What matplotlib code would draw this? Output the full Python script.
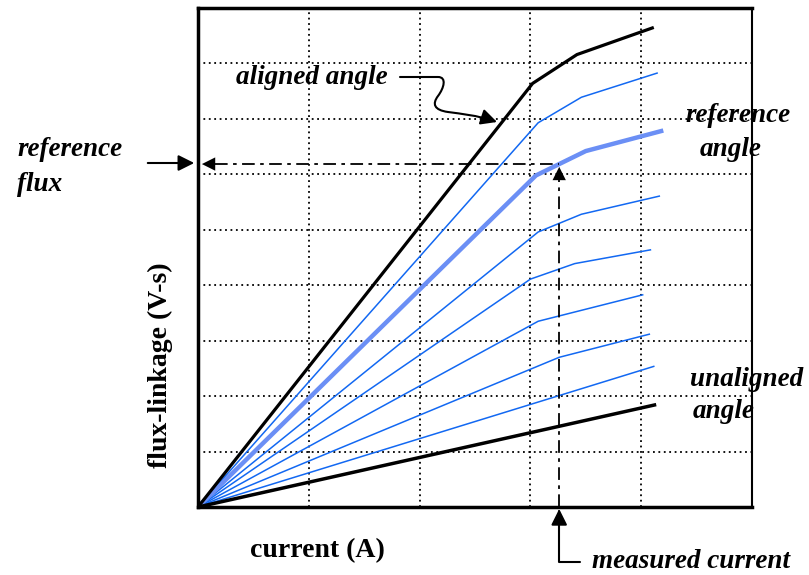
import matplotlib.pyplot as plt
import numpy as np
from matplotlib.patches import FancyArrowPatch
from matplotlib.path import Path

# flux-linkage curves, current and flux in grid units
aligned_i = [0, 3.02, 3.42, 4.10]
aligned_psi = [0, 7.64, 8.16, 8.64]

ref_i = [0, 3.05, 3.50, 4.18]
ref_psi = [0, 5.98, 6.42, 6.78]

blue_curves = [
    ([0, 3.07, 3.46, 4.15], [0, 6.93, 7.39, 7.83]),
    ([0, 3.07, 3.46, 4.17], [0, 4.96, 5.28, 5.61]),
    ([0, 3.00, 3.40, 4.09], [0, 4.11, 4.39, 4.64]),
    ([0, 3.07, 4.02], [0, 3.35, 3.83]),
    ([0, 3.26, 4.08], [0, 2.70, 3.12]),
    ([0, 4.12], [0, 2.54]),
]

unaligned_i = [0, 4.12]
unaligned_psi = [0, 1.84]

measured_current = 3.26
reference_flux = np.interp(measured_current, ref_i, ref_psi)

W, H = 809, 575
fig = plt.figure(figsize=(W / 100, H / 100), dpi=100)
ax = fig.add_axes([198 / W, 1 - 507 / H, 554 / W, 499 / H])
ax.set_xlim(0, 5)
ax.set_ylim(0, 9)
ax.set_xticks(range(1, 5))
ax.set_yticks(range(1, 9))
ax.tick_params(length=0, labelbottom=False, labelleft=False)
ax.grid(True, color='black', linestyle=(0, (1, 2)), linewidth=1.3)
for side in ['left', 'top', 'bottom']:
    ax.spines[side].set_linewidth(2.5)
ax.spines['right'].set_linewidth(1.5)
ax.set_zorder(2)
ax.patch.set_alpha(0)

blue = '#1268f2'
for xs, ys in blue_curves:
    ax.plot(xs, ys, color=blue, lw=1.1, solid_capstyle='butt')
ax.plot(ref_i, ref_psi, color='#6b8ff5', lw=3.2)
ax.plot(aligned_i, aligned_psi, color='black', lw=2.3)
ax.plot(unaligned_i, unaligned_psi, color='black', lw=2.5)

# reference flux / measured current construction lines
ax.plot([0.15, measured_current], [reference_flux, reference_flux], color='black',
        lw=1.3, linestyle=(0, (7, 3, 2, 3)))
ax.plot([measured_current, measured_current], [0, reference_flux - 0.25], color='black',
        lw=1.3, linestyle=(0, (7, 3, 2, 3)))
ax.add_patch(FancyArrowPatch((measured_current, reference_flux - 0.3),
                             (measured_current, reference_flux),
                             arrowstyle='-|>', mutation_scale=24, color='black', lw=0))
ax.add_patch(FancyArrowPatch((0.15, reference_flux), (0.01, reference_flux),
                             arrowstyle='-|>', mutation_scale=24, color='black', lw=0))


def fp(x, y):
    return (x / W, 1 - y / H)


tf = fig.transFigure
# reference flux arrow
fig.patches.append(FancyArrowPatch(fp(145, 163), fp(197, 163), transform=tf,
                                   arrowstyle='-|>', mutation_scale=24, color='black', lw=1.5))
# measured current arrow
cx = 198 + measured_current * 110.8
verts = [fp(580, 562), fp(cx, 562), fp(cx, 509)]
fig.patches.append(FancyArrowPatch(path=Path(verts, [Path.MOVETO, Path.LINETO, Path.LINETO]),
                                   transform=tf, arrowstyle='-|>', mutation_scale=24,
                                   color='black', lw=1.5))
# aligned angle squiggle
sq = [(400, 77), (438, 77), (447, 77), (444, 88), (438, 96), (432, 104), (434, 110),
      (448, 112), (462, 114), (476, 115), (497, 122)]
codes = [Path.MOVETO, Path.LINETO] + [Path.CURVE4] * 9
fig.patches.append(FancyArrowPatch(path=Path([fp(*p) for p in sq], codes), transform=tf,
                                   arrowstyle='-|>', mutation_scale=24, color='black', lw=1.5))

lab = dict(family='Liberation Serif', weight='bold', style='italic', fontsize=19.5,
           color='black', va='center', ha='left')
fig.text(*fp(236, 78), 'aligned angle', **lab)
fig.text(*fp(685, 116), 'reference', **lab)
fig.text(*fp(700, 149), 'angle', **lab)
fig.text(*fp(17, 150), 'reference', **lab)
fig.text(*fp(17, 185), 'flux', **lab)
fig.text(*fp(690, 380), 'unaligned', **lab)
fig.text(*fp(693, 411), 'angle', **lab)
fig.text(*fp(592, 561), 'measured current', **lab)

axl = dict(family='Liberation Serif', weight='bold', fontsize=20, color='black')
fig.text(*fp(250, 551), 'current (A)', va='center', ha='left', **axl)
fig.text(*fp(160, 365), 'flux-linkage (V-s)', rotation=90, va='center', ha='center', **axl)

fig.savefig('out.png', dpi=100)
